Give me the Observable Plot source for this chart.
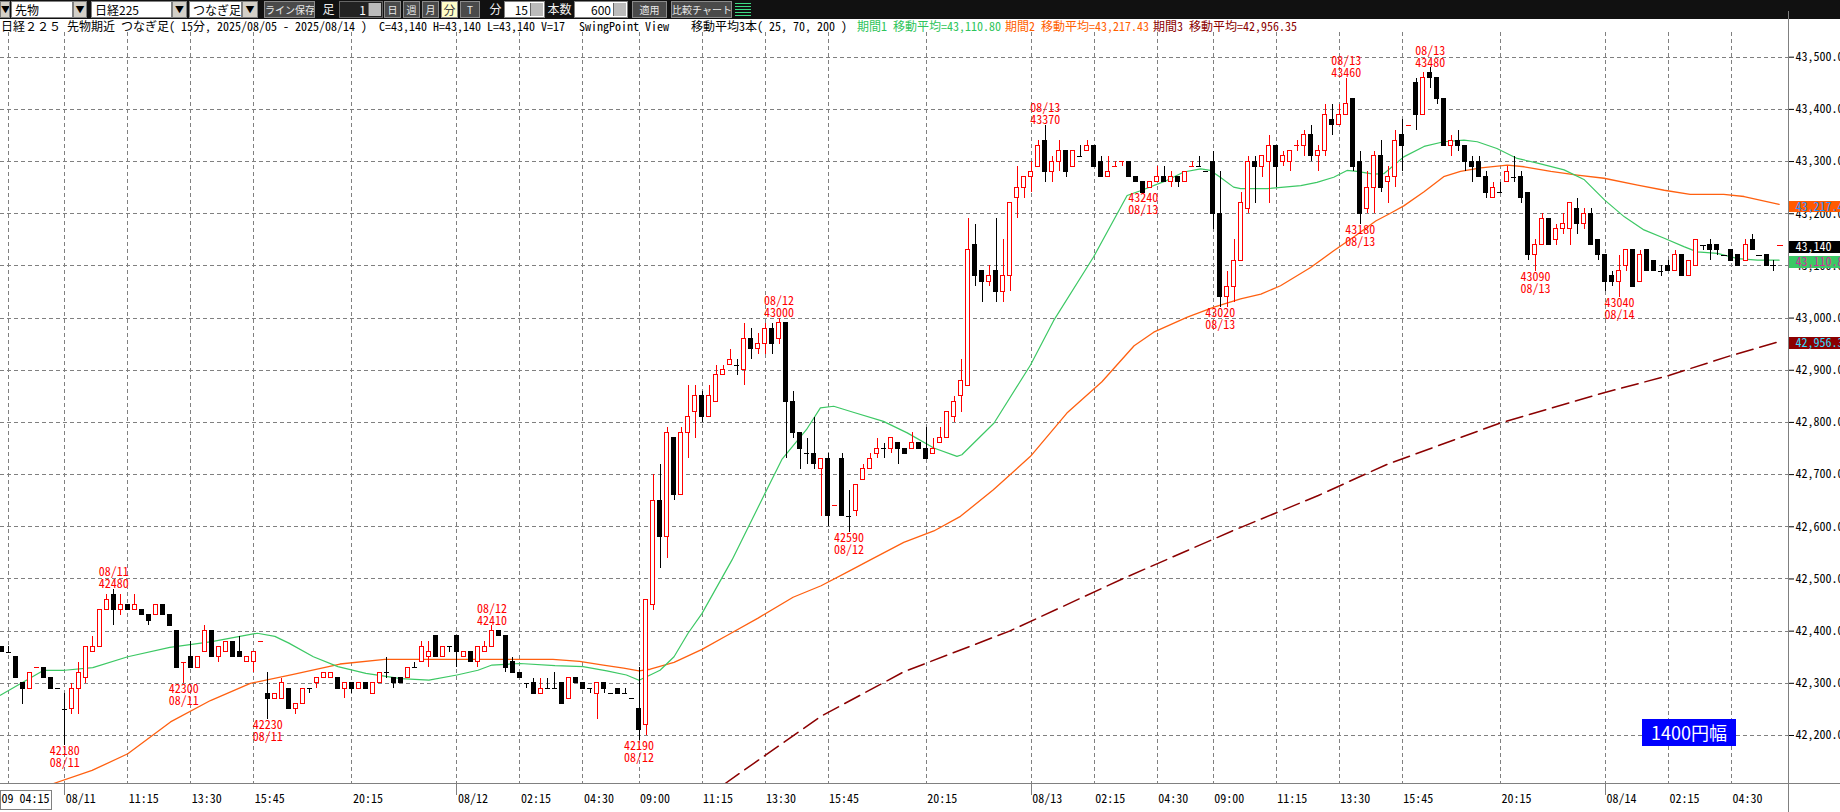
<!DOCTYPE html>
<html><head><meta charset="utf-8">
<script src="https://cdn.jsdelivr.net/npm/d3@7"></script>
<script src="https://cdn.jsdelivr.net/npm/@observablehq/plot@0.6"></script>
<style>
html,body{margin:0;padding:0;background:#fff;width:1840px;height:812px;overflow:hidden;}
#root{position:relative;width:1840px;height:812px;}
#tb{position:absolute;left:0;top:0;width:1840px;height:19px;background:#111;}
.it{position:absolute;top:1px;height:17px;box-sizing:border-box;font:12px/15px "Noto Sans CJK JP",sans-serif;white-space:nowrap;overflow:hidden;text-align:center;}
.a{background:#d4d0c8;color:#000;border:1px solid #808080;font-size:9px;line-height:15px;}
.w{background:#fff;color:#000;text-align:left;padding-left:3px;border:1px solid #808080;}
.g{background:#4a4a4a;color:#e8e8e8;border:1px solid #8a8a8a;font-size:10px;}
.d{background:#111;color:#f0f0f0;}
.h{background:#ffffc8;color:#404040;border:1px solid #8a8a8a;}
.n{background:#222;color:#fff;text-align:right;padding-right:16px;border:1px solid #666;}
.nw{background:#fff;color:#000;text-align:right;padding-right:16px;border:1px solid #808080;}
.pen{position:absolute;right:1px;top:1px;width:12px;height:13px;background:#bbb;border-left:1px solid #666;}
#hdr{position:absolute;left:0;top:19px;height:13px;width:1788px;font:12px/13px "Noto Sans Mono CJK JP","Noto Sans CJK JP",monospace;white-space:nowrap;}
#hdr span{position:absolute;top:0;}
#chart{position:absolute;left:0;top:19px;}
#range{position:absolute;left:1642px;top:719px;width:94px;height:27px;background:#0000ff;color:#fff;font:18px/27px "Noto Sans CJK JP",sans-serif;text-align:center;}
</style></head>
<body><div id="root">
<div id="tb"></div>
<div id="hdr"></div>
<div id="chart"></div>
<div id="range"></div>
</div>
<script>
// ---------------- DATA ----------------
const startIdx = -18; // bar index of first visible bar (11:15 on 08/11 = 0)
const open = [
42370,42360,42350,42300,42290,42330,42330,42310,42290,42250,
42250,42290,42310,42360,42370,42440,42470,42440,42450,42440,
42440,42430,42430,42450,42430,42400,42340,42350,42330,42360,
42400,42350,42360,42380,42360,42340,42340,42380,42280,42270,
42270,42290,42250,42260,42290,42300,42310,42310,42310,42290,
42300,42290,42300,42280,42300,42320,42310,42310,42310,42330,
42340,42350,42390,42350,42370,42390,42350,42360,42340,42360,
42370,42400,42390,42340,42320,42300,42300,42280,42290,42290,
42300,42270,42310,42300,42290,42280,42300,42280,42290,42280,
42270,42250,42220,42450,42650,42580,42770,42660,42780,42820,
42850,42810,42840,42890,42910,42910,42900,42960,42940,42950,
42980,42960,42990,42840,42780,42740,42740,42710,42730,42640,
42730,42620,42630,42690,42710,42740,42750,42750,42760,42750,
42750,42760,42750,42740,42760,42770,42810,42850,42870,43140,
43090,43070,43090,43050,43080,43230,43250,43270,43290,43340,
43280,43300,43320,43290,43310,43320,43330,43300,43270,43290,
43300,43300,43270,43260,43250,43260,43270,43260,43270,43260,
43290,43290,43280,43300,43200,43040,43060,43110,43210,43300,
43290,43300,43330,43300,43300,43330,43330,43350,43310,43320,
43380,43370,43390,43420,43300,43210,43250,43310,43260,43270,
43350,43370,43450,43390,43470,43460,43420,43330,43340,43330,
43300,43300,43270,43230,43240,43260,43270,43270,43240,43120,
43140,43190,43150,43170,43170,43210,43180,43200,43150,43120,
43080,43070,43100,43130,43070,43130,43110,43090,43100,43090,
43120,43080,43100,43140,43140,43140,43120,43130,43120,43110,
43150,43120,43120,43100,43140];
const high = [
42370,42370,42350,42300,42320,42330,42330,42310,42290,42280,
42300,42340,42370,42390,42440,42470,42480,42470,42450,42470,
42440,42430,42450,42450,42430,42400,42340,42380,42350,42410,
42400,42370,42380,42380,42390,42350,42360,42380,42320,42280,
42310,42290,42260,42290,42290,42310,42320,42320,42310,42300,
42300,42300,42300,42300,42320,42350,42310,42310,42330,42340,
42380,42380,42390,42370,42370,42390,42360,42360,42370,42380,
42410,42400,42390,42350,42320,42300,42310,42310,42310,42320,
42300,42310,42310,42300,42290,42300,42300,42280,42290,42290,
42270,42330,42460,42700,42720,42790,42770,42790,42870,42870,
42860,42870,42910,42910,42940,42920,42990,42980,42970,42990,
42990,43000,42990,42860,42780,42770,42810,42730,42740,42640,
42740,42670,42680,42720,42740,42770,42760,42770,42760,42750,
42780,42760,42790,42770,42790,42820,42850,42920,43190,43180,
43090,43100,43190,43150,43220,43290,43270,43300,43340,43370,
43310,43340,43320,43320,43330,43340,43330,43310,43310,43300,
43300,43300,43270,43260,43260,43290,43290,43280,43270,43280,
43300,43310,43280,43320,43280,43090,43150,43240,43310,43310,
43310,43350,43330,43320,43320,43340,43360,43370,43330,43410,
43410,43410,43460,43420,43320,43280,43320,43340,43290,43360,
43380,43370,43460,43470,43480,43460,43420,43350,43360,43330,
43310,43310,43280,43260,43260,43290,43310,43280,43240,43150,
43200,43190,43180,43200,43220,43230,43210,43210,43150,43120,
43090,43120,43130,43130,43130,43130,43110,43100,43110,43130,
43120,43110,43150,43140,43150,43140,43120,43130,43120,43150,
43160,43120,43120,43110,43140];
const low = [
42360,42360,42310,42260,42290,42330,42310,42290,42290,42180,
42240,42240,42300,42360,42370,42440,42410,42430,42440,42440,
42430,42410,42430,42430,42410,42330,42300,42330,42330,42360,
42350,42340,42360,42350,42350,42340,42320,42380,42230,42270,
42270,42250,42240,42260,42280,42290,42310,42310,42290,42270,
42280,42290,42290,42280,42300,42310,42290,42300,42310,42330,
42340,42330,42350,42350,42360,42330,42350,42340,42330,42360,
42370,42390,42320,42320,42310,42290,42280,42280,42290,42290,
42260,42270,42300,42290,42280,42230,42280,42280,42280,42280,
42270,42190,42200,42440,42520,42540,42650,42660,42730,42770,
42800,42810,42840,42890,42910,42890,42870,42920,42930,42930,
42930,42950,42730,42770,42710,42720,42710,42620,42600,42640,
42620,42590,42620,42690,42710,42730,42730,42740,42720,42740,
42750,42750,42730,42740,42760,42770,42800,42820,42870,43060,
43030,43060,43030,43030,43050,43190,43230,43240,43290,43260,
43260,43280,43270,43290,43310,43320,43290,43270,43270,43290,
43290,43270,43260,43240,43250,43260,43260,43250,43250,43260,
43290,43290,43280,43170,43020,43020,43030,43110,43200,43220,
43270,43220,43250,43290,43280,43320,43310,43300,43280,43310,
43350,43370,43390,43280,43180,43200,43200,43240,43220,43250,
43280,43370,43360,43390,43440,43410,43330,43310,43320,43280,
43260,43270,43230,43230,43240,43260,43260,43220,43110,43090,
43140,43140,43140,43160,43140,43160,43170,43140,43110,43050,
43060,43040,43090,43060,43070,43090,43090,43080,43090,43090,
43080,43080,43100,43130,43110,43120,43120,43110,43100,43110,
43130,43120,43100,43090,43140];
const close = [
42360,42360,42310,42290,42320,42330,42310,42290,42290,42250,
42290,42320,42370,42370,42440,42460,42440,42450,42440,42450,
42430,42420,42450,42430,42410,42330,42340,42330,42350,42400,
42350,42370,42380,42350,42350,42350,42360,42380,42270,42280,
42300,42250,42260,42290,42290,42310,42320,42320,42290,42300,
42290,42300,42290,42300,42320,42320,42300,42300,42330,42330,
42370,42360,42350,42370,42370,42360,42360,42340,42370,42370,
42400,42390,42330,42320,42310,42300,42280,42290,42290,42290,
42260,42310,42300,42290,42290,42300,42290,42280,42280,42280,
42270,42210,42460,42650,42580,42780,42660,42780,42810,42850,
42810,42850,42890,42900,42920,42910,42960,42940,42950,42980,
42950,42990,42840,42780,42750,42740,42720,42730,42620,42640,
42620,42620,42680,42710,42730,42750,42750,42770,42750,42740,
42760,42750,42730,42750,42770,42820,42840,42880,43130,43080,
43070,43080,43050,43080,43220,43250,43270,43280,43330,43280,
43300,43320,43280,43320,43310,43330,43290,43270,43280,43290,
43300,43270,43260,43240,43260,43270,43260,43270,43260,43280,
43290,43290,43280,43200,43040,43060,43110,43220,43300,43290,
43310,43330,43290,43310,43320,43330,43350,43310,43320,43390,
43370,43390,43410,43290,43200,43250,43310,43250,43270,43340,
43330,43370,43390,43460,43460,43420,43330,43340,43330,43300,
43290,43270,43240,43250,43240,43280,43270,43230,43120,43140,
43190,43140,43170,43180,43220,43180,43200,43140,43120,43070,
43070,43090,43130,43060,43120,43090,43090,43090,43090,43120,
43080,43110,43150,43140,43130,43130,43120,43110,43100,43140,
43130,43120,43100,43100,43140];

// moving averages (bar position, value)
const ma25X = [-18.2,-12,-9,-5,0,6,12,16,18.5,21,23,26.5,30,34,39,43,47,50,52,56,61,65,68.4,71.2,73,74.6,76,78,80,82,86.3,90.8,93.4,96.9,98.9,100.8,103.7,107.9,111.3,115.1,118.4,119.1,123.7,128.9,132.2,137.9,142.7,144.6,148.4,150.8,153.2,154.6,156,157.9,158.9,162.7,167.5,169.8,172.2,174.1,175.5,177.9,179.4,182.2,185.1,187.9,190.8,192.7,195.5,198.4,201.3,205.1,208,210.9,213.7,216.5,219.4,222.2,224.1,227,229.9,232.7,235.8];
const ma25Y = [42277,42325,42325,42330,42351,42369,42380,42390,42396,42390,42377,42351,42332,42319,42309,42306,42316,42325,42335,42338,42334,42332,42324,42316,42306,42316,42325,42351,42396,42434,42537,42659,42729,42786,42828,42831,42819,42802,42780,42751,42735,42738,42799,42910,42995,43117,43235,43244,43264,43280,43286,43283,43270,43251,43248,43248,43254,43260,43270,43283,43281,43276,43277,43309,43329,43338,43341,43338,43325,43306,43297,43284,43265,43226,43194,43169,43153,43137,43127,43124,43114,43111,43111];
const ma70X = [-10.6,-5.1,0,6.1,11.8,17.5,23.3,30.3,36.7,45.6,56,60.7,64.5,67.9,70.8,73,74.6,78,82,86,90,95,99,103,106.1,110.8,115.1,118.9,123.6,128.9,134.1,139.1,143.7,146.5,151.3,155.1,158.9,161.8,164.6,168.9,172.2,175.1,178.2,180.3,182.2,185.1,187.9,190.3,193.2,197,199.4,203.2,207,210.8,215.6,219.4,223.1,227.9,230.8,235.8];
const ma70Y = [42108,42133,42165,42226,42267,42300,42316,42337,42346,42346,42346,42346,42342,42335,42329,42324,42327,42340,42365,42395,42425,42465,42487,42515,42537,42570,42592,42620,42671,42735,42818,42878,42947,42973,43002,43021,43037,43046,43062,43097,43129,43156,43186,43201,43215,43242,43271,43281,43288,43293,43290,43281,43274,43268,43255,43245,43237,43237,43233,43218];
const ma200X = [85.3,99,110.8,125.9,142,157.7,170,179.7,196,210.8,219.8,228.9,235.8];
const ma200Y = [42108,42237,42322,42400,42500,42592,42660,42719,42799,42857,42889,42928,42955];

// swing point labels
const hiIdx = [-2,52,93,131,174,186];
const hiVal = [42480,42410,43000,43370,43460,43480];
const hiDate = ["08/11","08/12","08/12","08/13","08/13","08/13"];
const loIdx = [-9,8,20,73,103,145,156,176,201,213];
const loVal = [42180,42300,42230,42190,42590,43240,43020,43180,43090,43040];
const loDate = ["08/11","08/11","08/11","08/12","08/12","08/13","08/13","08/13","08/13","08/14"];

// axes
const xTickIdx = [-17,-9,0,9,18,32,47,56,65,73,82,91,100,114,129,138,147,155,164,173,182,196,211,220,229];
const xTickLabels = ["09 04:15","08/11","11:15","13:30","15:45","20:15","08/12","02:15","04:30","09:00","11:15","13:30","15:45","20:15","08/13","02:15","04:30","09:00","11:15","13:30","15:45","20:15","08/14","02:15","04:30"];
const dateTickIdx = [-9,47,129,211];
const yTicks = [42200,42300,42400,42500,42600,42700,42800,42900,43000,43100,43200,43300,43400,43500];

// right-edge current value tags
const tagVal = [43217.43,43140,43110.80,42956.35];
const tagText = ["43,217.43","43,140","43,110.80","42,956.35"];
const tagBg = ["#ff5a00","#000000","#3cc864","#8b0000"];
const tagFg = ["#1e8fff","#ffffff","#d0309a","#33ddff"];

// header / toolbar texts
const headerParts = [
  {x:1, t:"日経２２５ 先物期近 つなぎ足( 15分, 2025/08/05 - 2025/08/14 )", c:"#000"},
  {x:379, t:"C=43,140 H=43,140 L=43,140 V=17", c:"#000"},
  {x:579, t:"SwingPoint View", c:"#000"},
  {x:691, t:"移動平均3本( 25, 70, 200 )", c:"#000"},
  {x:857, t:"期間1 移動平均=43,110.80", c:"#2ec45a"},
  {x:1005, t:"期間2 移動平均=43,217.43", c:"#ff6000"},
  {x:1153, t:"期間3 移動平均=42,956.35", c:"#8b0000"}
];
const tbItems = [
 {x:0,w:10,t:"▼",k:"a"},{x:11,w:62,t:"先物",k:"w"},{x:73,w:14,t:"▼",k:"a"},
 {x:91,w:81,t:"日経225",k:"w"},{x:172,w:15,t:"▼",k:"a"},{x:189,w:53,t:"つなぎ足",k:"w"},
 {x:242,w:16,t:"▼",k:"a"},{x:264,w:51,t:"ライン保存",k:"g"},{x:320,w:17,t:"足",k:"d"},
 {x:339,w:44,t:"1",k:"n"},{x:384,w:17,t:"日",k:"g"},{x:403,w:17,t:"週",k:"g"},
 {x:422,w:17,t:"月",k:"g"},{x:441,w:17,t:"分",k:"h"},{x:460,w:20,t:"T",k:"g"},
 {x:487,w:17,t:"分",k:"d"},{x:504,w:41,t:"15",k:"nw"},{x:545,w:29,t:"本数",k:"d"},
 {x:574,w:54,t:"600",k:"nw"},{x:632,w:35,t:"適用",k:"g"},{x:671,w:61,t:"比較チャート",k:"g"}
];
const rangeLabel = "1400円幅";

// ---------------- BUILD ----------------
const tb = document.getElementById("tb");
for (const it of tbItems) {
  const d = document.createElement("div");
  d.className = "it " + it.k;
  d.style.left = it.x + "px"; d.style.width = it.w + "px";
  d.textContent = it.t;
  if (it.k === "n" || it.k === "nw") { const p = document.createElement("div"); p.className = "pen"; d.appendChild(p); }
  tb.appendChild(d);
}
// green icon
const ic = document.createElement("div");
ic.style.cssText = "position:absolute;left:735px;top:2px;width:16px;height:15px;background:repeating-linear-gradient(#111 0 1px,#3ddc84 1px 2px,#111 2px 3px);";
tb.appendChild(ic);

const hdr = document.getElementById("hdr");
for (const p of headerParts) {
  const s = document.createElement("span");
  s.style.left = p.x + "px"; s.style.color = p.c; s.textContent = p.t;
  hdr.appendChild(s);
}
document.getElementById("range").textContent = rangeLabel;

const bars = open.map((o, k) => {
  const c = close[k], prev = k > 0 ? close[k - 1] : c;
  const up = c > o || (c === o && c > prev);
  return {i: startIdx + k, o, h: high[k], l: low[k], c, up, doji: c === o};
});
const ma25 = ma25X.map((x, k) => ({x, y: ma25Y[k]}));
const ma70 = ma70X.map((x, k) => ({x, y: ma70Y[k]}));
const ma200 = ma200X.map((x, k) => ({x, y: ma200Y[k]}));
const his = hiIdx.map((x, k) => ({x, y: hiVal[k], t: hiDate[k] + "\n" + hiVal[k]}));
const los = loIdx.map((x, k) => ({x, y: loVal[k], t: loVal[k] + "\n" + loDate[k]}));
const xt = xTickIdx.map((x, k) => ({x, t: xTickLabels[k]}));
const tags = tagVal.map((v, k) => ({v, t: tagText[k], bg: tagBg[k], fg: tagFg[k]}));

const X0 = -18.178, X1 = 237.14, Y0 = 42108.0, Y1 = 43547.34;
const mono = '"Noto Sans Mono CJK JP","Noto Sans CJK JP","DejaVu Sans Mono",monospace';
const RED = "#ff0000", GRID = "#808080";
const hw = 0.2857;

const chart = Plot.plot({
  width: 1840, height: 793,
  marginTop: 13, marginBottom: 29, marginLeft: 0, marginRight: 52,
  style: {background: "transparent", fontFamily: mono, fontSize: "12px", overflow: "visible"},
  x: {domain: [X0, X1], axis: null},
  y: {domain: [Y0, Y1], axis: null},
  marks: [
    Plot.gridY(yTicks, {stroke: GRID, strokeOpacity: 1, strokeDasharray: "4,3", shapeRendering: "crispEdges"}),
    Plot.gridX(xTickIdx, {stroke: GRID, strokeOpacity: 1, strokeDasharray: "4,3", shapeRendering: "crispEdges"}),
    Plot.line(ma200, {x: "x", y: "y", stroke: "#8b0000", strokeWidth: 1.5, strokeDasharray: "17,7", clip: true}),
    Plot.line(ma70, {x: "x", y: "y", stroke: "#ff6010", strokeWidth: 1.3, clip: true}),
    Plot.line(ma25, {x: "x", y: "y", stroke: "#3cc864", strokeWidth: 1.2, clip: true}),
    Plot.ruleX(bars, {x: "i", y1: "l", y2: "h", stroke: d => d.up ? RED : "#000", strokeWidth: 1, shapeRendering: "crispEdges"}),
    Plot.rect(bars.filter(d => !d.doji), {x1: d => d.i - hw, x2: d => d.i + hw, y1: "o", y2: "c",
      fill: d => d.up ? "#fff" : "#000", stroke: d => d.up ? RED : "#000", strokeWidth: 1, shapeRendering: "crispEdges"}),
    Plot.ruleY(bars.filter(d => d.doji), {y: "c", x1: d => d.i - 0.36, x2: d => d.i + 0.36,
      stroke: d => d.up ? RED : "#000", strokeWidth: 1, shapeRendering: "crispEdges"}),
    Plot.text(his, {x: "x", y: "y", text: "t", lineAnchor: "bottom", dy: -1, fill: RED, fontSize: 12, fontFamily: mono, lineHeight: 1}),
    Plot.text(los, {x: "x", y: "y", text: "t", lineAnchor: "top", dy: 1, fill: RED, fontSize: 12, fontFamily: mono, lineHeight: 1}),
    // axis frame lines
    Plot.ruleY([Y0], {x1: X0, x2: X1 + 10, stroke: GRID, shapeRendering: "crispEdges"}),
    Plot.ruleX([X1], {y1: Y0 - 60, y2: Y1 + 40, stroke: GRID, shapeRendering: "crispEdges"}),
    Plot.ruleX(dateTickIdx, {y1: Y0, y2: Y0 - 23, stroke: GRID, shapeRendering: "crispEdges"}),
    // x tick labels
    Plot.text(xt.slice(1), {x: "x", text: "t", frameAnchor: "bottom", dy: 16, dx: 1, textAnchor: "start", lineAnchor: "middle", fill: "#000", fontSize: 12, fontFamily: mono}),
    Plot.rect([0], {x1: X0, x2: X0 + 7.3, y1: Y0 - 14, y2: Y0 - 50, fill: "none", stroke: GRID, shapeRendering: "crispEdges"}),
    Plot.text(xt.slice(0, 1), {x: X0, text: "t", frameAnchor: "bottom", dy: 16, dx: 1, textAnchor: "start", lineAnchor: "middle", fill: "#000", fontSize: 12, fontFamily: mono}),
    // right y axis
    Plot.axisY(yTicks, {anchor: "right", tickSize: 5, tickPadding: 2, tickFormat: d => d3.format(",.1f")(d), textAnchor: "start", fontSize: 12, fontFamily: mono, fill: "#000", label: null}),
    // value tags
    Plot.rect(tags, {x1: X1 + 0.1, x2: X1 + 9, y1: d => d.v + 6.7, y2: d => d.v - 15.7, fill: "bg", shapeRendering: "crispEdges"}),
    Plot.text(tags, {x: X1, y: "v", text: "t", dx: 7, dy: 2.3, textAnchor: "start", fill: "fg", fontSize: 12, fontFamily: mono})
  ]
});
document.getElementById("chart").appendChild(chart);
</script>
</body></html>
